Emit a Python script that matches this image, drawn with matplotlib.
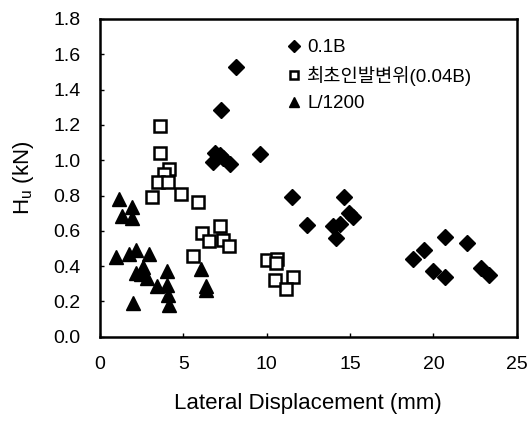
import matplotlib
matplotlib.use("Agg")
import matplotlib.pyplot as plt

plt.rcParams['font.family'] = ['Liberation Sans', 'Noto Sans CJK KR', 'DejaVu Sans']

# 0.1B
d01_x = [8.15, 7.29, 6.9, 7.2, 7.4, 6.8, 7.8, 9.59, 11.49, 12.43, 14.65, 14.95, 15.19,
         13.99, 14.42, 14.13, 18.79, 19.42, 20.68, 21.98, 19.98, 20.68, 22.82, 23.34]
d01_y = [1.53, 1.285, 1.04, 1.03, 1.01, 0.99, 0.98, 1.036, 0.79, 0.634, 0.79, 0.703, 0.677,
         0.628, 0.64, 0.558, 0.44, 0.49, 0.564, 0.53, 0.375, 0.336, 0.39, 0.35]

# 최초인발변위 (0.04B)
d004_x = [3.6, 3.6, 4.14, 3.84, 3.5, 4.1, 3.15, 4.86, 5.9, 6.14, 7.19, 6.54, 7.39, 7.75,
          5.6, 10.0, 10.6, 10.55, 10.53, 11.55, 11.15]
d004_y = [1.194, 1.043, 0.949, 0.92, 0.879, 0.875, 0.794, 0.807, 0.766, 0.59, 0.628, 0.54,
          0.549, 0.517, 0.455, 0.436, 0.44, 0.417, 0.323, 0.341, 0.27]

# L/1200
l1200_x = [1.14, 1.96, 1.34, 1.96, 1.0, 1.76, 2.2, 2.96, 2.6, 2.16, 2.44, 2.84, 3.45,
           4.0, 4.0, 4.1, 4.14, 2.0, 6.04, 6.35, 6.35]
l1200_y = [0.779, 0.737, 0.686, 0.675, 0.451, 0.47, 0.49, 0.47, 0.398, 0.36, 0.355, 0.332,
           0.289, 0.37, 0.294, 0.238, 0.181, 0.194, 0.383, 0.285, 0.266]

xticks = [0, 5, 10, 15, 20, 25]
yticks = [0.0, 0.2, 0.4, 0.6, 0.8, 1.0, 1.2, 1.4, 1.6, 1.8]

fig = plt.figure(figsize=(5.28, 4.21), dpi=100)
ax = fig.add_axes([0.189, 0.2, 0.790, 0.755])

ax.plot(d01_x, d01_y, 'D', color='black', ms=8, ls='none', label='0.1B')
ax.plot(d004_x, d004_y, 's', mfc='white', mec='black', mew=1.8, ms=8.5, ls='none',
        label='최초인발변위(0.04B)')
ax.plot(l1200_x, l1200_y, '^', color='black', ms=10, ls='none', label='L/1200')

ax.set_xlim(0, 25)
ax.set_ylim(0, 1.8)
ax.set_xticks(xticks)
ax.set_yticks(yticks)
ax.set_yticklabels([f'{v:.1f}' for v in yticks])
ax.tick_params(direction='in', length=3, width=1, labelsize=14, pad=14)
ax.tick_params(axis='y', pad=14)
for s in ax.spines.values():
    s.set_linewidth(1.8)

ax.set_xlabel('Lateral Displacement (mm)', fontsize=16, labelpad=14)
ax.set_ylabel('H$_\\mathregular{u}$ (kN)', fontsize=16, labelpad=12)

ax.legend(loc='upper left', bbox_to_anchor=(0.425, 0.96), frameon=False, fontsize=13.5,
          handletextpad=0.2, labelspacing=0.5, borderaxespad=0, handlelength=1.0,
          markerscale=0.75)

fig.savefig('out.png', dpi=100)
